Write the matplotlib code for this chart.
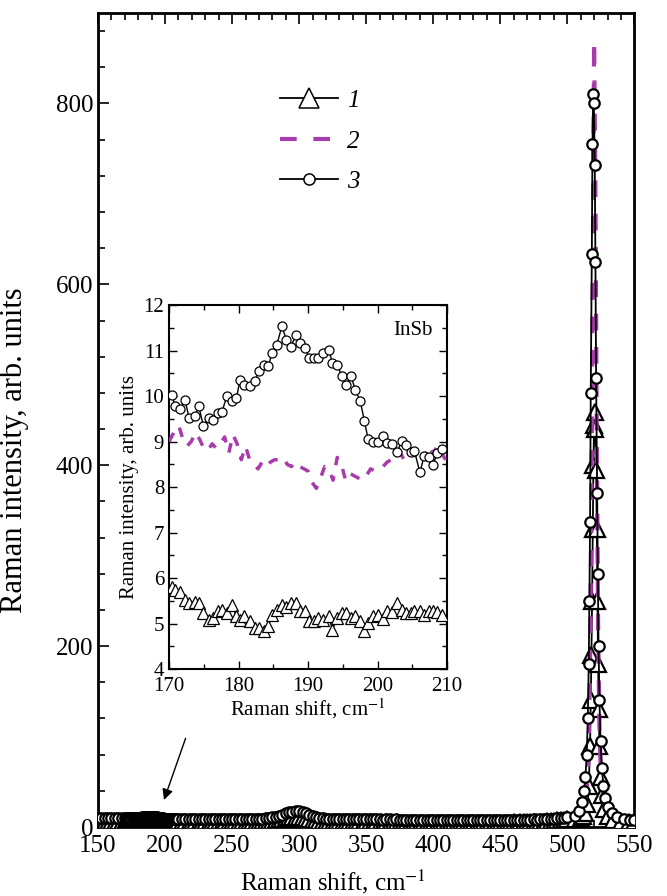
import matplotlib
matplotlib.use("Agg")
import matplotlib.pyplot as plt
from matplotlib.ticker import MultipleLocator

plt.rcParams['font.family'] = ['Liberation Serif', 'DejaVu Serif']
plt.rcParams['mathtext.fontset'] = 'stix'

# ---------------- data ----------------
# inset region (170-210 cm^-1), curves 1 and 3 share the x grid
x_in = [170.4, 170.9, 171.6, 172.3, 172.9, 173.7, 174.3, 174.95, 175.7, 176.4,
        177.0, 177.6, 178.3, 179.0, 179.7, 180.2, 180.8, 181.6, 182.3, 182.9,
        183.6, 184.3, 184.8, 185.5, 186.25, 186.9, 187.5, 188.3, 188.9, 189.6,
        190.2, 190.8, 191.5, 192.2, 193.0, 193.5, 194.2, 194.9, 195.5, 196.2,
        196.8, 197.5, 198.1, 198.65, 199.4, 200.1, 200.8, 201.4, 202.1, 202.8,
        203.5, 204.1, 204.8, 205.3, 206.1, 206.7, 207.4, 208.0, 208.6, 209.3]
c3_in = [10.02, 9.77, 9.71, 9.91, 9.51, 9.56, 9.77, 9.33, 9.51, 9.47,
         9.62, 9.64, 9.99, 9.90, 9.95, 10.35, 10.24, 10.21, 10.32, 10.54,
         10.68, 10.65, 10.94, 11.12, 11.54, 11.22, 11.08, 11.34, 11.16, 11.05,
         10.83, 10.83, 10.83, 10.94, 11.01, 10.73, 10.68, 10.43, 10.24, 10.44,
         10.13, 9.90, 9.46, 9.05, 9.00, 8.98, 9.12, 8.96, 8.95, 8.76,
         9.02, 8.93, 8.76, 8.80, 8.32, 8.68, 8.67, 8.49, 8.74, 8.83]
c1_in = [5.81, 5.74, 5.70, 5.52, 5.46, 5.48, 5.45, 5.23, 5.08, 5.12,
         5.27, 5.30, 5.23, 5.41, 5.16, 5.08, 5.16, 5.05, 4.90, 4.90,
         4.84, 4.94, 5.19, 5.30, 5.41, 5.37, 5.45, 5.46, 5.27, 5.27,
         5.05, 5.05, 5.12, 5.08, 5.16, 4.86, 5.12, 5.23, 5.23, 5.12,
         5.16, 5.05, 4.83, 5.01, 5.16, 5.19, 5.10, 5.27, 5.25, 5.46,
         5.29, 5.23, 5.23, 5.27, 5.27, 5.19, 5.27, 5.27, 5.25, 5.19]
x2_in = [170.0, 170.7, 171.4, 172.0, 172.6, 173.2, 173.8, 174.4, 175.0, 175.6,
         176.2, 176.8, 177.4, 178.0, 178.6, 179.2, 179.8, 180.4, 181.0, 181.6,
         182.2, 182.8, 183.4, 184.0, 184.6, 185.2, 185.8, 186.4, 187.0, 187.6,
         188.2, 188.8, 189.4, 190.0, 190.6, 191.2, 191.8, 192.4, 193.0, 193.6,
         194.2, 194.8, 195.4, 196.0, 196.6, 197.2, 197.8, 198.4, 199.0, 199.6,
         200.2, 200.8, 201.4, 202.0, 202.6, 203.2, 203.8, 204.4, 205.0, 205.6,
         206.2, 206.8, 207.4, 208.0, 208.6, 209.2, 209.8]
c2_in = [9.0, 9.2, 9.35, 9.05, 8.9, 9.0, 9.2, 9.05, 8.85, 8.8,
         8.95, 8.85, 8.95, 9.1, 8.75, 9.15, 8.95, 8.6, 8.9, 8.6,
         8.5, 8.4, 8.55, 8.45, 8.55, 8.6, 8.6, 8.65, 8.5, 8.45,
         8.55, 8.45, 8.4, 8.35, 8.1, 7.97, 8.2, 8.45, 8.4, 8.15,
         8.65, 8.5, 8.15, 8.3, 8.25, 8.2, 8.15, 8.25, 8.4, 8.35,
         8.4, 8.45, 8.55, 8.6, 8.7, 8.78, 8.6, 8.72, 8.8, 8.65,
         8.8, 8.67, 8.9, 8.74, 8.9, 8.75, 8.6]

# baseline outside the inset range (curves 1 and 3 sampled every 2.5 cm^-1)
x_pre = [150, 152.5, 155, 157.5, 160, 162.5, 165, 167.5]
c1_pre = [5.9, 5.8, 6.0, 5.8, 5.9, 5.7, 5.9, 5.8]
c3_pre = [10.2, 9.9, 10.1, 9.8, 10.0, 9.7, 10.1, 9.9]
x2_pre = [150, 155, 160, 165]
c2_pre = [9.1, 9.0, 9.2, 9.0]

x_mid = [212.5 + 2.5 * i for i in range(116)]
c1_mid = [5.1, 5.0, 4.9, 5.1, 5.0, 4.8, 5.0, 5.1, 4.9, 5.0, 5.2, 5.0, 4.9, 5.1, 5.0,
          5.2, 5.1, 5.0, 5.2, 5.3, 5.2, 5.4, 5.5, 5.6,
          5.8, 6.1, 6.5, 7.0, 7.6, 8.3, 9.1, 9.9, 10.7, 11.3, 11.6, 11.4, 10.8, 10.0,
          9.1, 8.2, 7.4, 6.7, 6.2, 5.8,
          5.6, 5.4, 5.3, 5.2, 5.3, 5.1, 5.2, 5.0, 5.1, 5.0, 4.9, 5.1, 5.0, 4.9, 5.0,
          4.8, 4.9, 5.0, 4.8, 4.9, 4.8, 4.7, 4.9, 4.8, 4.7, 4.8, 4.9, 4.7, 4.8, 4.6,
          4.8, 4.7,
          4.8, 4.7, 4.6, 4.8, 4.7, 4.6, 4.7, 4.8, 4.6, 4.7, 4.5, 4.7, 4.6, 4.7, 4.8,
          4.6, 4.7, 4.6, 4.8, 4.7, 4.8, 4.9, 4.8, 5.0, 4.9, 5.1, 5.0, 5.2, 5.3, 5.4,
          5.5, 5.7, 5.9, 6.1, 6.4, 6.8, 7.2, 7.7, 8.3, 9.0]
c3_mid = [8.9, 8.6, 8.8, 8.5, 8.7, 8.4, 8.6, 8.5, 8.7, 8.4, 8.6, 8.8, 8.5, 8.7, 8.6,
          8.9, 8.7, 8.8, 9.0, 8.8, 8.9, 9.1, 9.0, 9.2,
          9.4, 9.7, 10.1, 10.8, 11.6, 12.6, 13.8, 15.0, 16.2, 17.0, 17.5, 17.2, 16.4,
          15.1, 13.6, 12.2, 11.0, 10.2, 9.7, 9.4,
          9.2, 9.0, 9.1, 8.9, 8.8, 9.0, 8.7, 8.8, 8.6, 8.7, 8.5, 8.6, 8.7, 8.4, 8.5,
          8.6, 8.3, 8.4, 8.5, 8.2, 8.4, 8.3, 8.1, 8.3, 8.2, 8.0, 8.2, 8.1, 8.3, 8.0,
          8.1, 7.9,
          8.0, 8.1, 7.9, 7.8, 8.0, 7.9, 7.7, 7.9, 8.0, 7.8, 7.9, 7.7, 7.8, 7.9, 7.6,
          7.8, 7.7, 7.9, 7.8, 7.7, 7.9, 7.8, 8.0, 7.9, 8.1, 8.0, 8.2, 8.1, 8.3, 8.4,
          8.3, 8.5, 8.7, 8.8, 9.0, 9.3, 9.6, 10.0, 10.5, 11.0]
x2_mid = list(range(215, 505, 5))
c2_mid = [8.4, 8.3, 8.5, 8.2, 8.4, 8.3, 8.2, 8.4, 8.3, 8.5, 8.6, 8.8, 9.2, 9.8, 11.0,
          12.5, 14.0, 15.0, 14.5, 12.0, 10.0, 9.0, 8.7, 8.5, 8.4, 8.3, 8.2, 8.3, 8.1,
          8.2, 8.0, 8.1, 8.0, 7.9, 8.0, 7.8, 7.9, 7.8, 7.7, 7.8, 7.7, 7.6, 7.7, 7.6,
          7.5, 7.6, 7.7, 7.6, 7.7, 7.8, 7.9, 8.0, 8.2, 8.5, 9.0, 9.8, 11.0, 12.5]

# peak region (Si line ~520 cm^-1)
x1_pk = [506, 510, 512, 513.5, 515, 516, 517, 517.5, 518, 518.5, 519, 519.5, 520,
         520.5, 521, 521.5, 522, 522.5, 523, 523.5, 524, 525, 526, 527.5, 530, 534,
         540, 546, 550]
c1_pk = [9, 10, 12, 16, 25, 45, 90, 140, 190, 250, 330, 400, 445,
         459, 440, 395, 330, 250, 180, 130, 90, 55, 35, 20, 12, 8,
         6, 5.5, 5.5]
x2_pk = [505, 510, 513, 515, 516, 517, 518, 519, 520, 521, 522, 523, 524, 525,
         527, 530, 535, 542, 550]
c2_pk = [13, 15, 25, 50, 90, 180, 350, 620, 870, 700, 430, 220, 110, 60,
         30, 17, 11, 9, 8]
x3_pk = [506, 509, 511, 512.5, 513.5, 514.5, 515.3, 516, 516.5, 517, 517.5, 518.3,
         518.8, 519.3, 519.8, 520.5, 521, 521.5, 522.3, 522.8, 523.3, 524, 524.8,
         525.8, 527, 528.5, 530.5, 533.5, 537, 542, 547, 550]
c3_pk = [12, 18, 28, 40, 55, 80, 120, 180, 250, 337, 480, 633,
         755, 810, 801, 732, 625, 496, 369, 280, 200, 140, 95,
         65, 45, 32, 22, 15, 11, 9, 8, 8]

labels = ['1', '2', '3']
magenta = '#a83cab'

x1 = x_pre + x_in + x_mid + x1_pk
y1 = c1_pre + c1_in + c1_mid + c1_pk
x2 = x2_pre + x2_in + x2_mid + x2_pk
y2 = c2_pre + c2_in + c2_mid + c2_pk
x3 = x_pre + x_in + x_mid + x3_pk
y3 = c3_pre + c3_in + c3_mid + c3_pk

# ---------------- figure ----------------
fig = plt.figure(figsize=(6.67, 8.96), dpi=100)
ax = fig.add_axes([0.147, 0.077, 0.804, 0.9085])

ax.plot(x1, y1, color='k', lw=1.3, marker='^', ms=11, mfc='white', mec='k',
        mew=1.6, label=labels[0], zorder=3)
ax.plot(x2, y2, color=magenta, lw=3, ls=(0, (4, 4)), label=labels[1], zorder=4)
ax.plot(x3, y3, color='k', lw=1.3, marker='o', ms=7.5, mfc='white', mec='k',
        mew=1.6, label=labels[2], zorder=5)

ax.set_xlim(150, 550)
ax.set_ylim(0, 900)
ax.xaxis.set_major_locator(MultipleLocator(50))
ax.xaxis.set_minor_locator(MultipleLocator(10))
ax.yaxis.set_major_locator(MultipleLocator(200))
ax.yaxis.set_minor_locator(MultipleLocator(40))
ax.tick_params(which='both', direction='in', top=True, right=False,
               labelsize=18, width=1.2)
ax.tick_params(which='major', length=8)
ax.tick_params(which='minor', length=5)
ax.tick_params(axis='x', pad=6)
for s in ax.spines.values():
    s.set_linewidth(2)
ax.set_xlabel('Raman shift, cm$^{-1}$', fontsize=18)
ax.xaxis.set_label_coords(0.438, -0.05)
ax.set_ylabel('Raman intensity, arb. units', fontsize=22)
ax.yaxis.set_label_coords(-0.128, 0.463)

leg = ax.legend(loc='upper left', bbox_to_anchor=(0.34, 0.906), frameon=False,
                fontsize=18, handlelength=2.3, labelspacing=0.72,
                handletextpad=0.35, borderpad=0, borderaxespad=0)
for t in leg.get_texts():
    t.set_fontstyle('italic')
try:
    leg.legend_handles[0].set_markersize(14)
    leg.legend_handles[2].set_markersize(8)
    for h in (leg.legend_handles[0], leg.legend_handles[2]):
        h.set_markeredgewidth(1.1)
except Exception:
    pass

ax.annotate('', xy=(198.5, 27), xytext=(216, 101),
            arrowprops=dict(arrowstyle='-|>', color='k', lw=1.0,
                            mutation_scale=16), zorder=6)

# ---------------- inset ----------------
axi = fig.add_axes([0.2534, 0.2533, 0.4168, 0.4063])
axi.plot(x_in, c1_in, color='k', lw=1.0, marker='^', ms=8.5, mfc='white',
         mec='k', mew=0.9, zorder=3)
axi.plot(x2_in, c2_in, color=magenta, lw=2.5, ls=(0, (2.8, 3.2)), zorder=4)
axi.plot(x_in, c3_in, color='k', lw=1.0, marker='o', ms=6.5, mfc='white',
         mec='k', mew=0.9, zorder=5)
axi.set_xlim(170, 210)
axi.set_ylim(4, 12)
axi.xaxis.set_major_locator(MultipleLocator(10))
axi.xaxis.set_minor_locator(MultipleLocator(5))
axi.yaxis.set_major_locator(MultipleLocator(1))
axi.yaxis.set_minor_locator(MultipleLocator(0.5))
axi.tick_params(which='both', direction='in', top=True, right=True,
                labelsize=15, width=1.0)
axi.tick_params(which='major', length=6)
axi.tick_params(which='minor', length=3.5)
axi.tick_params(axis='x', pad=6)
for s in axi.spines.values():
    s.set_linewidth(1.5)
axi.set_xlabel('Raman shift, cm$^{-1}$', fontsize=15, labelpad=0)
axi.set_ylabel('Raman intensity, arb. units', fontsize=15, labelpad=3)
axi.text(0.95, 0.93, 'InSb', transform=axi.transAxes, ha='right', va='center',
         fontsize=15)

fig.savefig('out.png', dpi=100)
